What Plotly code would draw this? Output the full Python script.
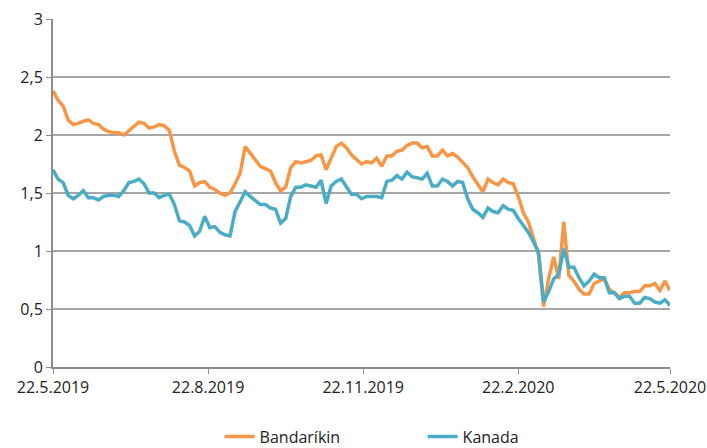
import pandas as pd
import plotly.graph_objects as go

# Dates: every third day from 22.5.2019 to 22.5.2020
dates = pd.date_range("2019-05-22", "2020-05-22", freq="3D")

bandarikin = [
    2.38, 2.30, 2.25, 2.13, 2.09, 2.10, 2.12, 2.13, 2.10, 2.09,
    2.05, 2.03, 2.02, 2.02, 2.00, 2.04, 2.07, 2.11, 2.10, 2.06,
    2.07, 2.09, 2.08, 2.04, 1.86, 1.74, 1.72, 1.69, 1.56, 1.59,
    1.60, 1.55, 1.53, 1.50, 1.48, 1.50, 1.58, 1.67, 1.90, 1.84,
    1.78, 1.73, 1.71, 1.69, 1.59, 1.52, 1.55, 1.72, 1.77, 1.76,
    1.77, 1.78, 1.82, 1.83, 1.70, 1.80, 1.90, 1.93, 1.89, 1.83,
    1.79, 1.75, 1.77, 1.76, 1.80, 1.73, 1.82, 1.82, 1.86, 1.87,
    1.91, 1.93, 1.93, 1.89, 1.90, 1.82, 1.82, 1.87, 1.82, 1.84,
    1.81, 1.77, 1.72, 1.64, 1.58, 1.51, 1.62, 1.59, 1.57, 1.62,
    1.59, 1.58, 1.47, 1.33, 1.25, 1.12, 0.97, 0.52, 0.76, 0.95,
    0.76, 1.25, 0.79, 0.74, 0.67, 0.63, 0.63, 0.72, 0.74, 0.76,
    0.67, 0.64, 0.60, 0.64, 0.64, 0.65, 0.65, 0.70, 0.70, 0.72,
    0.66, 0.74, 0.66,
]

kanada = [
    1.70, 1.62, 1.59, 1.48, 1.45, 1.48, 1.52, 1.46, 1.46, 1.44,
    1.47, 1.48, 1.48, 1.47, 1.52, 1.59, 1.60, 1.62, 1.58, 1.50,
    1.50, 1.46, 1.48, 1.49, 1.40, 1.26, 1.25, 1.22, 1.13, 1.17,
    1.30, 1.20, 1.21, 1.16, 1.14, 1.13, 1.34, 1.42, 1.51, 1.47,
    1.43, 1.40, 1.40, 1.37, 1.36, 1.24, 1.28, 1.47, 1.55, 1.55,
    1.57, 1.56, 1.55, 1.61, 1.41, 1.56, 1.60, 1.62, 1.55, 1.49,
    1.49, 1.45, 1.47, 1.47, 1.47, 1.46, 1.60, 1.61, 1.65, 1.62,
    1.68, 1.64, 1.63, 1.62, 1.67, 1.56, 1.56, 1.62, 1.60, 1.56,
    1.60, 1.59, 1.45, 1.36, 1.33, 1.29, 1.37, 1.34, 1.33, 1.39,
    1.36, 1.35, 1.28, 1.22, 1.16, 1.08, 0.99, 0.56, 0.65, 0.76,
    0.80, 1.02, 0.86, 0.86, 0.77, 0.70, 0.74, 0.80, 0.77, 0.77,
    0.64, 0.64, 0.59, 0.61, 0.61, 0.55, 0.55, 0.60, 0.59, 0.56,
    0.55, 0.58, 0.53,
]

tick_dates = ["2019-05-22", "2019-08-22", "2019-11-22", "2020-02-22", "2020-05-22"]
tick_labels = ["22.5.2019", "22.8.2019", "22.11.2019", "22.2.2020", "22.5.2020"]
y_ticks = [0, 0.5, 1, 1.5, 2, 2.5, 3]

FONT = "Open Sans, Liberation Sans, sans-serif"

fig = go.Figure()
fig.add_trace(go.Scatter(x=dates, y=bandarikin, name="Bandaríkin", mode="lines",
                         line=dict(color="#F79646", width=3.5)))
fig.add_trace(go.Scatter(x=dates, y=kanada, name="Kanada", mode="lines",
                         line=dict(color="#4BACC6", width=3.5)))

fig.update_layout(
    width=707, height=448,
    margin=dict(l=53, r=37, t=19, b=81, autoexpand=False),
    paper_bgcolor="white", plot_bgcolor="white",
    separators=", ",
    font=dict(family=FONT, size=16, color="#222222"),
    showlegend=True,
    legend=dict(orientation="h", x=0.27, xanchor="left", y=-0.2, yanchor="middle",
                font=dict(size=16), entrywidth=158, entrywidthmode="pixels"),
)
fig.update_xaxes(
    range=["2019-05-22", "2020-05-22"],
    tickvals=tick_dates, ticktext=tick_labels,
    showgrid=False, showline=True, linecolor="#8C8C8C", linewidth=2,
    ticks="outside", ticklen=5, tickcolor="#8C8C8C", tickwidth=1,
    tickfont=dict(size=16, color="#222222"), automargin=False,
)
fig.update_yaxes(
    range=[0, 3], tickvals=y_ticks,
    showgrid=True, gridcolor="#A6A6A6", gridwidth=1.5,
    showline=True, linecolor="#8C8C8C", linewidth=2,
    ticks="outside", ticklen=5, tickcolor="#8C8C8C",
    tickfont=dict(size=16, color="#222222"),
    zeroline=False, automargin=False,
)

fig.write_html(
    "out.html",
    config={"displayModeBar": False},
    post_script="document.body.style.margin='0';document.body.style.overflow='hidden';",
)
